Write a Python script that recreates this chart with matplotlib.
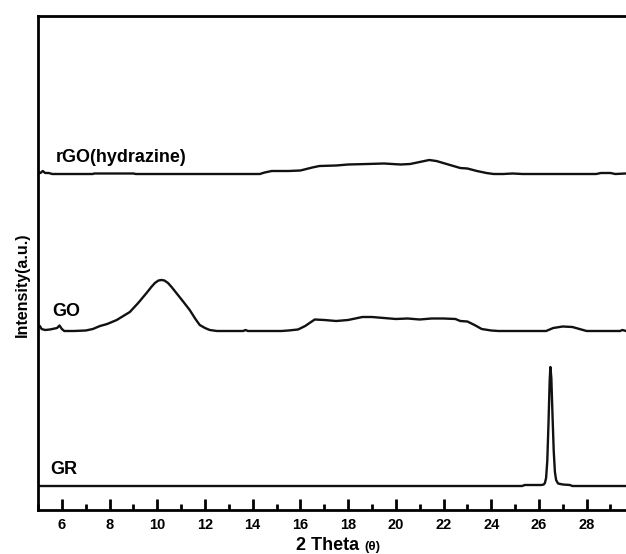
import matplotlib
matplotlib.use('Agg')
import numpy as np
from matplotlib import pyplot as plt
from matplotlib.ticker import MultipleLocator

plt.rcParams['font.family'] = ['Liberation Sans', 'DejaVu Sans']
plt.rcParams['font.weight'] = 'bold'

# GR (graphite)
gr_x = [5.0, 25.3, 25.4, 26.1, 26.2, 26.25, 26.3, 26.35, 26.4, 26.45, 26.48,
        26.52, 26.57, 26.62, 26.67, 26.72, 26.8, 27.0, 27.3, 27.4, 29.65]
gr_y = [0, 0, 1, 1, 1.5, 3, 8, 25, 62, 105, 119,
        108, 70, 35, 14, 6, 2.5, 1.5, 1, 0, 0]

# GO
go_x = [5.0, 5.08, 5.15, 5.3, 5.5, 5.8, 5.9, 6.0, 6.1, 6.5, 7.0, 7.3, 7.6, 7.9,
        8.3, 8.85, 9.2, 9.55, 9.75, 9.9, 10.05, 10.18, 10.3, 10.45, 10.6, 10.8,
        11.1, 11.36, 11.6, 11.78, 12.0, 12.2, 12.5, 13.6, 13.7, 13.8, 15.2,
        15.5, 15.9, 16.2, 16.6, 17.0, 17.5, 18.0, 18.6, 19.0, 19.5, 20.0, 20.5,
        21.0, 21.5, 22.0, 22.5, 22.7, 23.0, 23.3, 23.6, 24.0, 24.3, 26.3, 26.6,
        27.0, 27.4, 27.7, 28.0, 29.4, 29.5, 29.65]
go_y = [3, 5, 2, 1, 1.5, 3, 5.5, 2, 0, 0, 0.5, 2, 5, 7,
        11, 19, 28, 38, 44, 48, 50.5, 51, 50.5, 48, 44, 38,
        29, 21, 12, 6, 3, 1, 0, 0, 1, 0, 0,
        0.5, 1.5, 5, 11.5, 11, 10, 11, 14, 14, 13, 12, 12.5,
        11.5, 12.5, 12.5, 12, 10, 9.5, 6, 2, 0.5, 0, 0, 3,
        4.5, 4, 2, 0, 0, 1, 0]

# rGO (hydrazine)
rgo_x = [5.0, 5.1, 5.2, 5.3, 5.45, 5.6, 7.3, 7.35, 9.0, 9.1, 14.3, 14.5, 14.8,
         15.5, 16.0, 16.5, 16.8, 17.5, 18.0, 18.8, 19.5, 20.2, 20.6, 21.0,
         21.4, 21.7, 22.2, 22.7, 23.0, 23.4, 23.8, 24.1, 24.5, 24.9, 25.3,
         28.4, 28.6, 29.0, 29.2, 29.65]
rgo_y = [2, 1, 3, 1, 1, 0, 0, 0.5, 0.5, 0, 0, 1.5, 3,
         3, 3.5, 6.5, 8, 8.5, 9.5, 10, 10.5, 9.5, 10, 12,
         14, 13, 9.5, 6, 5.5, 3, 1, 0, 0, 0.5, 0,
         0, 1, 1, 0, 0.5]

offsets = {'GR': 24, 'GO': 179, 'rGO': 336}

fig = plt.figure(figsize=(6.26, 5.54), dpi=100)
ax = fig.add_axes([38/626, 44/554, 1 - 38/626, 494/554])

ax.plot(gr_x, np.array(gr_y) + offsets['GR'], color='#111111', lw=1.7)
ax.plot(go_x, np.array(go_y) + offsets['GO'], color='#111111', lw=1.7)
ax.plot(rgo_x, np.array(rgo_y) + offsets['rGO'], color='#111111', lw=1.7)

ax.set_xlim(5, 29.65)
ax.set_ylim(0, 494)

for s in ['left', 'bottom', 'top']:
    ax.spines[s].set_linewidth(2)
ax.spines['right'].set_visible(False)

ax.xaxis.set_minor_locator(MultipleLocator(1))
ax.set_xticks(np.arange(6, 29, 2))
ax.tick_params(axis='x', which='major', direction='in', length=8, width=2,
               labelsize=10.5, pad=6)
ax.tick_params(axis='x', which='minor', direction='in', length=4, width=2)
ax.set_yticks([])
for lab in ax.get_xticklabels():
    lab.set_fontweight('bold')

# curve labels
ax.text(5.75, 344, 'rGO(hydrazine)', fontsize=13, fontweight='bold',
        va='bottom', ha='left')
ax.text(5.6, 190, 'GO', fontsize=13, fontweight='bold', va='bottom', ha='left')
ax.text(5.5, 32, 'GR', fontsize=13, fontweight='bold', va='bottom', ha='left')

# axis titles
fig.text(359/626, 4/554, '2 Theta', fontsize=13, fontweight='bold',
         ha='right', va='baseline')
fig.text(364/626, 4/554, '(θ)', fontsize=9.5, fontweight='bold',
         ha='left', va='baseline')
fig.text(22/626, 1 - 285/554, 'Intensity(a.u.)', fontsize=11.5,
         fontweight='bold', rotation=90, ha='center', va='center')

plt.savefig('out.png', dpi=100)
